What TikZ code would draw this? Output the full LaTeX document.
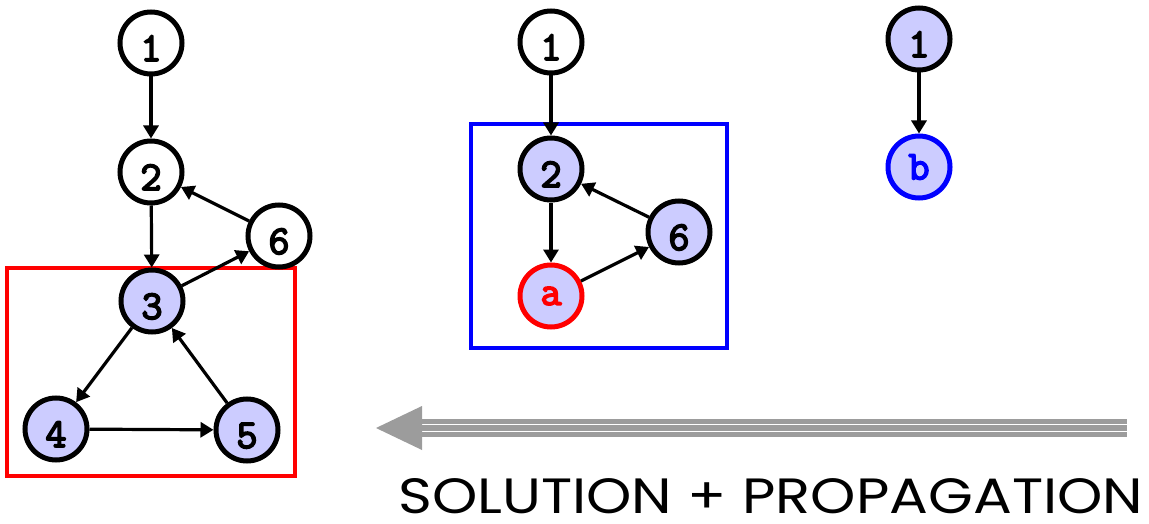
\documentclass[tikz,border=0pt]{standalone}
\usepackage{fontspec}
\usepackage{graphicx}
\newfontfamily\capfont{Poppins}
\newfontfamily\labfont[FakeBold=4]{Latin Modern Mono}
\usetikzlibrary{arrows.meta}
\definecolor{lav}{HTML}{CCCCFF}
\definecolor{bigarrow}{HTML}{9C9C9C}
\tikzset{
  vtx/.style={circle, draw=black, line width=5pt, minimum size=62pt, inner sep=0pt,
    font=\labfont\fontsize{41}{41}\selectfont, fill=white},
  vfill/.style={vtx, fill=lav},
  digit/.style={text height=36pt, text depth=0pt},
  edge/.style={line width=3.2pt, -{Triangle[length=13pt,width=15pt]}},
  redbox/.style={draw=red, line width=4pt},
  bluebox/.style={draw=blue, line width=4pt},
}
\begin{document}
\begin{tikzpicture}[x=1pt,y=-1pt]
\useasboundingbox (0,0) rectangle (1149,524);
% boxes
\draw[redbox] (7,268) rectangle (295,476);
\draw[bluebox] (471,124) rectangle (727,348);
% left graph
\node[vtx, digit] (L1) at (151,43) {1};
\node[vtx, digit] (L2) at (151,172) {2};
\node[vtx, digit] (L6) at (279,236) {6};
\node[vfill, digit] (L3) at (152,301) {3};
\node[vfill, digit] (L4) at (56,429) {4};
\node[vfill, digit] (L5) at (247,430) {5};
\draw[edge] (L1) -- (L2);
\draw[edge] (L2) -- (L3);
\draw[edge] (L6) -- (L2);
\draw[edge] (L3) -- (L6);
\draw[edge] (L3) -- (L4);
\draw[edge] (L4) -- (L5);
\draw[edge] (L5) -- (L3);
% middle graph
\node[vtx, digit] (M1) at (551,42) {1};
\node[vfill, digit] (M2) at (551,169) {2};
\node[vfill, digit] (M6) at (679,232) {6};
\node[vfill, draw=red, text=red] (Ma) at (551,296) {a};
\draw[edge] (M1) -- (M2);
\draw[edge] (M2) -- (Ma);
\draw[edge] (M6) -- (M2);
\draw[edge] (Ma) -- (M6);
% right graph
\node[vfill, digit] (R1) at (919,39) {1};
\node[vfill, draw=blue, text=blue] (Rb) at (919,167) {b};
\draw[edge] (R1) -- (Rb);
% big gray arrow
\fill[bigarrow] (420,419) rectangle (1127,437);
\draw[white, line width=1.5pt] (420,424.5) -- (1127,424.5);
\draw[white, line width=1.5pt] (420,431.5) -- (1127,431.5);
\fill[bigarrow] (376,428) -- (422,406) -- (422,450) -- cycle;
% caption
\node[anchor=south west, inner sep=0pt] (cap) at (398,514)
  {\resizebox{745pt}{35pt}{\capfont SOLUTION + PROPAGATION}};
\end{tikzpicture}
\end{document}
